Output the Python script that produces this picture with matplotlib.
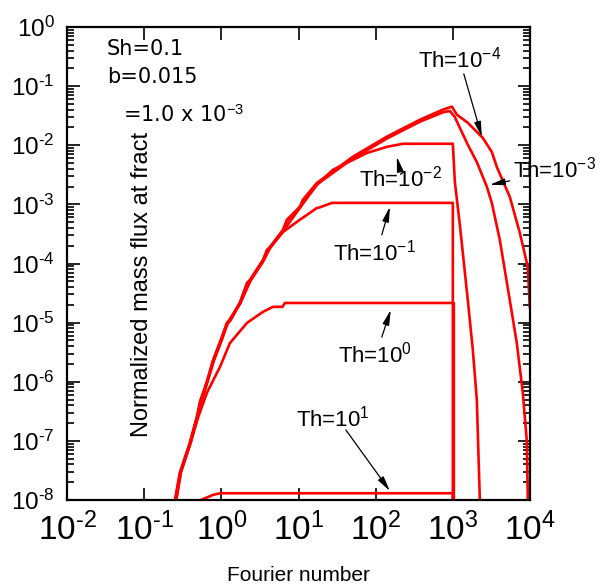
import numpy as np
import matplotlib
matplotlib.use("Agg")
import matplotlib.pyplot as plt

plt.rcParams['font.family'] = ['Liberation Sans', 'DejaVu Sans']
plt.rcParams['mathtext.fontset'] = 'custom'
plt.rcParams['mathtext.rm'] = 'Liberation Sans'
plt.rcParams['mathtext.it'] = 'Liberation Sans:italic'
plt.rcParams['mathtext.bf'] = 'Liberation Sans:bold'

# datos (Fourier number, flujo normalizado)
fo_th4 = [0.25, 0.29, 0.39, 0.48, 0.53, 0.65, 0.78, 1.0, 1.18, 1.29, 1.74, 2.15, 2.35, 3.46, 3.9, 4.26,
          6.28, 7.08, 10.4, 11.4, 17.3, 50.7, 140, 374, 742, 971, 1127, 1563, 2447, 3200, 3715, 5472,
          7379, 9370, 9940]
q_th4 = [1.0e-8, 2.9e-8, 9.2e-8, 2.5e-7, 4.0e-7, 1.0e-6, 2.3e-6, 5.3e-6, 9.9e-6, 1.1e-5, 2.2e-5, 4.7e-5,
         5.3e-5, 1.15e-4, 1.7e-4, 1.9e-4, 3.7e-4, 5.5e-4, 9.1e-4, 1.2e-3, 2.3e-3, 6.4e-3, 1.4e-2, 2.7e-2,
         4.0e-2, 4.5e-2, 3.3e-2, 2.4e-2, 1.33e-2, 7.7e-3, 4.3e-3, 1.34e-3, 3.3e-4, 8.7e-5, 1.85e-5]

fo_th3 = [0.255, 0.295, 0.395, 0.49, 0.54, 0.66, 0.8, 1.02, 1.2, 1.31, 1.76, 2.18, 2.4, 3.5, 3.95, 4.3,
          6.35, 7.2, 10.6, 11.6, 17.6, 50.7, 140, 374, 742, 914, 1062, 1233, 1563, 2046, 2757, 3200,
          4064, 5472, 6745, 8070, 9090, 9370]
q_th3 = [1.0e-8, 2.9e-8, 9.2e-8, 2.5e-7, 4.0e-7, 1.0e-6, 2.3e-6, 5.2e-6, 9.7e-6, 1.08e-5, 2.15e-5, 4.6e-5,
         5.2e-5, 1.12e-4, 1.65e-4, 1.85e-4, 3.6e-4, 5.4e-4, 9.0e-4, 1.15e-3, 2.2e-3, 6.0e-3, 1.3e-2, 2.5e-2,
         3.6e-2, 3.8e-2, 3.0e-2, 1.97e-2, 1.02e-2, 5.2e-3, 2.0e-3, 1.06e-3, 2.5e-4, 2.4e-5, 4.5e-6,
         6.5e-7, 1.0e-7, 1.0e-8]

fo_th2 = [0.26, 0.30, 0.40, 0.49, 0.54, 0.66, 0.80, 1.2, 1.75, 2.4, 3.5, 4.3, 6.4, 10.6, 17.3, 27.9,
          76.9, 140, 225, 1000, 1062, 1233, 1563, 1816, 2046, 2238]
q_th2 = [1.0e-8, 3.0e-8, 9.5e-8, 2.6e-7, 4.8e-7, 1.0e-6, 2.3e-6, 9.5e-6, 2.1e-5, 5.2e-5, 1.1e-4, 1.85e-4,
         3.6e-4, 9.0e-4, 2.14e-3, 3.84e-3, 7.4e-3, 9.4e-3, 1.06e-2, 1.06e-2, 2.4e-3, 4.5e-4, 2.4e-5,
         3.45e-6, 4.9e-7, 1.0e-8]

fo_th1 = [0.255, 0.29, 0.39, 0.48, 0.53, 0.65, 0.78, 1.18, 1.74, 2.35, 3.46, 4.26, 6.28, 10.4, 12.8,
          17.3, 18.9, 27.1, 1000, 1000]
q_th1 = [1.0e-8, 2.8e-8, 9.0e-8, 2.45e-7, 4.7e-7, 1.0e-6, 2.25e-6, 9.6e-6, 2.1e-5, 5.1e-5, 1.1e-4,
         1.85e-4, 3.4e-4, 5.5e-4, 6.6e-4, 8.7e-4, 8.9e-4, 1.06e-3, 1.06e-3, 1.0e-9]

fo_th0 = [0.26, 0.30, 0.40, 0.50, 0.65, 0.96, 1.29, 2.15, 3.46, 4.66, 6.2, 6.67, 1030, 1030]
q_th0 = [1.0e-8, 3.0e-8, 9.2e-8, 2.5e-7, 6.5e-7, 1.78e-6, 4.5e-6, 9.9e-6, 1.52e-5, 1.85e-5, 1.85e-5,
         2.15e-5, 2.15e-5, 1.0e-9]

fo_th10 = [0.545, 0.78, 0.96, 1000, 1000]
q_th10 = [1.0e-8, 1.22e-8, 1.3e-8, 1.3e-8, 1.0e-9]

y_ticks = [1e0, 1e-1, 1e-2, 1e-3, 1e-4, 1e-5, 1e-6, 1e-7, 1e-8]
y_exps = ['0', '-1', '-2', '-3', '-4', '-5', '-6', '-7', '-8']
x_ticks = [1e-2, 1e-1, 1e0, 1e1, 1e2, 1e3, 1e4]
x_exps = ['-2', '-1', '0', '1', '2', '3', '4']

fig = plt.figure(figsize=(6.02, 5.88), dpi=100)
ax = fig.add_axes([67/602, 1-500/588, 463/602, 473/588])

for fo, q in [(fo_th4, q_th4), (fo_th3, q_th3), (fo_th2, q_th2), (fo_th1, q_th1),
              (fo_th0, q_th0), (fo_th10, q_th10)]:
    ax.plot(fo, q, color='#ff0000', lw=1.9)

ax.set_xscale('log')
ax.set_yscale('log')
ax.set_xlim(1e-2, 1e4)
ax.set_ylim(1e-8, 1e0)

def lab(e):
    if e.startswith('-'):
        return r'$\mathregular{10^{\text{-}' + e[1:] + '}}$'
    return r'$\mathregular{10^{' + e + '}}$'

ax.set_xticks(x_ticks)
ax.set_xticklabels([lab(e) for e in x_exps], fontsize=24)
ax.xaxis.set_minor_locator(matplotlib.ticker.NullLocator())
ax.set_yticks(y_ticks)
ax.set_yticklabels([lab(e) for e in y_exps], fontsize=17.5)
ax.yaxis.set_minor_locator(matplotlib.ticker.LogLocator(base=10, subs=np.arange(2, 10), numticks=20))
ax.yaxis.set_minor_formatter(matplotlib.ticker.NullFormatter())

ax.tick_params(which='both', direction='in', top=True, right=True, width=1.2, color='black')
ax.tick_params(which='major', length=9)
ax.tick_params(which='minor', length=5)
ax.tick_params(axis='x', pad=9)
ax.tick_params(axis='y', pad=9)
for s in ax.spines.values():
    s.set_linewidth(1.6)

ax.set_xlabel('Fourier number', fontsize=15, labelpad=14)

# textos dentro de la grafica
ax.text(0.033, 0.339, 'Sh=0.1', family='DejaVu Sans', fontsize=15, va='baseline')
ax.text(0.033, 0.114, 'b=0.015', family='DejaVu Sans', fontsize=15, va='baseline')
ax.text(0.053, 0.0249, r'=1.0 x 10$^{-3}$', family='DejaVu Sans', fontsize=15, va='baseline')
ax.text(0.13, 1.16e-7, 'Normalized mass flux at fract', fontsize=17, rotation=90,
        ha='left', va='bottom', rotation_mode='anchor')

labels = [(352, 0.204, r'Th=10$^{-4}$'), (5985, 2.8e-3, r'Th=10$^{-3}$'),
          (60.6, 1.98e-3, r'Th=10$^{-2}$'), (27.9, 1.11e-4, r'Th=10$^{-1}$'),
          (32.4, 2.08e-6, r'Th=10$^{0}$'), (9.25, 1.72e-7, r'Th=10$^{1}$')]
for xt, yt, t in labels:
    ax.text(xt, yt, t, fontsize=16, va='baseline', ha='left', clip_on=False)

arrows = [((2377, 1.39e-2), (1387, 0.161)), ((3015, 2.14e-3), (5470, 2.5e-3)),
          ((188, 6.4e-3), (200, 4.5e-3)), ((153, 9.1e-4), (120, 3.05e-4)),
          ((157, 1.64e-5), (120, 5.7e-6)), ((153, 1.42e-8), (41.1, 1.53e-7))]
for head, tail in arrows:
    ax.annotate('', xy=head, xytext=tail,
                arrowprops=dict(arrowstyle='-|>,head_length=0.9,head_width=0.2', color='black',
                                lw=0.9, shrinkA=0, shrinkB=0))

plt.savefig('out.png', dpi=100)
